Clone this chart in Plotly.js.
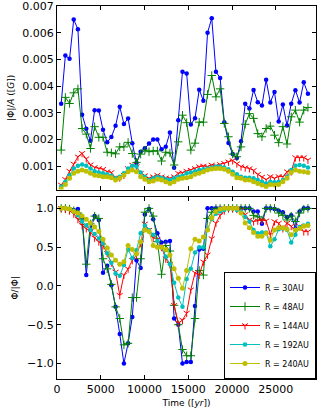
<!DOCTYPE html>
<html>
<head>
<meta charset="utf-8">
<script src="https://cdn.plot.ly/plotly-3.0.1.min.js"></script>
<style>html,body{margin:0;padding:0;background:#fff;}#chart{width:318px;height:416px;}</style>
</head>
<body>
<div id="chart"></div>
<script>
// Time of each snapshot (yr)
const times = [478,956,1434,1912,2390,2868,3346,3824,4302,4780,5258,5736,6214,6692,7170,7648,8126,8604,9082,9560,
  10038,10516,10994,11472,11950,12428,12906,13384,13862,14340,14818,15296,15774,16252,16730,17208,17686,18164,18642,19120,
  19598,20076,20554,21032,21510,21988,22466,22944,23422,23900,24378,24856,25334,25812,26290,26768,27246,27724,28202,28680];

const seriesNames = ["R = 30AU", "R = 48AU", "R = 144AU", "R = 192AU", "R = 240AU"];

// Top panel: |Phi| / A  ([G])
const amp30 = [0.00334,0.00515,0.00503,0.0065,0.00614,0.00293,0.0024,0.00195,0.0031,0.00309,
  0.00236,0.00189,0.00209,0.00251,0.00323,0.00258,0.00279,0.00186,0.00112,0.00154,
  0.00167,0.00185,0.002,0.002,0.00163,0.00173,0.00226,0.00094,0.00272,0.00454,
  0.00448,0.00256,0.0028,0.00387,0.00345,0.00601,0.00655,0.00454,0.00431,0.00265,
  0.00187,0.00145,0.0013,0.00193,0.00334,0.00316,0.00386,0.0034,0.00327,0.00424,
  0.00339,0.00378,0.00267,0.00331,0.00252,0.00334,0.00385,0.00339,0.00415,0.00372];
const amp48 = [0.0016,0.00358,0.00335,0.00375,0.0039,0.00241,0.0022,0.00166,0.00248,0.00208,
  0.00208,0.00152,0.0015,0.00146,0.00172,0.00172,0.00189,0.00147,0.00114,0.00145,
  0.0016,0.00154,0.00157,0.00157,0.00119,0.00152,0.00149,0.00104,0.00191,0.00291,
  0.00263,0.0016,0.00186,0.00265,0.00265,0.00369,0.0044,0.0036,0.0039,0.0026,
  0.0021,0.00145,0.00135,0.00172,0.00257,0.00297,0.00279,0.00222,0.0021,0.00241,
  0.0025,0.00216,0.00188,0.00248,0.00183,0.00285,0.0031,0.00265,0.0031,0.0032];
const amp144 = [0.00029,0.0005,0.00081,0.00108,0.00135,0.00148,0.00128,0.00105,0.00095,0.00091,
  0.00088,0.00079,0.00076,0.00056,0.00056,0.00066,0.00091,0.00104,0.00098,0.00073,
  0.00064,0.00054,0.0006,0.00066,0.0006,0.00056,0.00054,0.0006,0.00073,0.00075,
  0.00081,0.00085,0.00091,0.00098,0.001,0.00098,0.00104,0.00101,0.00106,0.0011,
  0.00116,0.00121,0.00109,0.00098,0.00094,0.00091,0.00084,0.00069,0.00059,0.00049,
  0.00061,0.00054,0.00061,0.0006,0.00079,0.00079,0.00132,0.00132,0.00132,0.00123];
const amp192 = [0.00023,0.00041,0.00066,0.00091,0.00101,0.00106,0.00101,0.00091,0.00081,0.00076,
  0.00073,0.00069,0.00064,0.00054,0.0006,0.00073,0.00091,0.00101,0.00098,0.00076,
  0.0006,0.00048,0.00054,0.0006,0.00056,0.00051,0.00048,0.00054,0.0006,0.00064,
  0.00073,0.00076,0.00081,0.00085,0.00088,0.00091,0.00095,0.00098,0.00098,0.00095,
  0.00088,0.00079,0.00069,0.0006,0.00056,0.00056,0.00054,0.00048,0.00041,0.00035,
  0.00041,0.00039,0.00041,0.00048,0.0006,0.00085,0.00101,0.00104,0.00101,0.00095];
const amp240 = [0.00015,0.00031,0.00054,0.00073,0.00081,0.00085,0.00081,0.00073,0.00066,0.00064,
  0.0006,0.0006,0.00056,0.00048,0.00054,0.00066,0.00079,0.00085,0.00079,0.0006,
  0.00051,0.00041,0.00044,0.00051,0.00048,0.00041,0.00035,0.00041,0.00051,0.00054,
  0.00056,0.0006,0.00069,0.00073,0.00079,0.00085,0.00089,0.00091,0.00091,0.00088,
  0.00081,0.00069,0.00056,0.00054,0.00048,0.00048,0.00041,0.00035,0.00029,0.00023,
  0.00031,0.00029,0.00031,0.00041,0.00054,0.00076,0.00085,0.00081,0.00079,0.00076];

// Bottom panel: Phi / |Phi|
const sgn30 = [1.0,1.0,0.99,0.98,0.99,0.88,0.14,0.72,0.9,0.85,
  0.17,0.26,0.01,-0.27,-0.62,-1.0,-0.74,-0.4,0.33,0.23,
  0.92,0.99,0.86,0.68,0.56,0.57,0.58,-0.42,-0.5,-1.0,
  -0.98,-0.98,-0.26,0.47,0.48,1.0,1.0,1.0,1.0,1.0,
  1.0,1.0,1.0,1.0,1.0,1.0,0.96,0.96,0.8,1.0,
  1.0,0.99,0.97,0.95,0.89,0.91,0.74,0.96,1.0,1.0];
const sgn48 = [1.0,1.0,0.99,0.97,0.94,0.86,0.28,0.8,0.9,0.87,
  0.35,0.22,0.02,-0.27,-0.42,-0.76,-0.74,-0.15,-0.15,0.35,
  0.95,1.0,0.9,0.57,0.15,0.52,0.45,-0.25,-0.5,-0.82,
  -0.9,-0.9,-0.42,0.2,0.14,0.87,0.95,1.0,1.0,1.0,
  1.0,1.0,1.0,1.0,1.0,1.0,0.91,0.89,0.85,1.0,
  1.0,1.0,0.94,0.91,0.85,0.9,0.83,0.94,0.99,1.0];
const sgn144 = [1.0,0.99,0.97,0.93,0.86,0.78,0.74,0.7,0.62,0.57,
  0.52,0.42,0.3,0.18,-0.12,0.14,0.22,0.33,0.4,0.55,
  0.8,0.72,0.62,0.6,0.5,0.35,0.28,-0.25,-0.48,-0.44,
  -0.35,-0.05,0.17,0.14,0.31,0.4,0.61,0.81,0.91,0.97,
  1.0,1.0,0.99,0.98,0.92,0.85,0.83,0.84,0.85,0.84,
  0.66,0.83,0.81,0.74,0.81,0.77,0.71,0.77,0.7,0.7];
const sgn192 = [1.0,1.0,0.99,0.97,0.91,0.83,0.78,0.72,0.67,0.61,
  0.55,0.42,0.3,0.16,0.13,0.27,0.47,0.36,0.46,0.68,
  0.78,0.72,0.66,0.58,0.5,0.38,0.28,0.04,-0.15,-0.27,
  0.09,0.22,0.43,0.5,0.5,0.73,0.86,0.93,0.96,0.98,
  1.0,1.0,0.98,0.96,0.89,0.83,0.72,0.68,0.69,0.69,
  0.51,0.6,0.73,0.74,0.72,0.56,0.66,0.76,0.78,0.8];
const sgn240 = [1.0,1.0,0.99,0.96,0.94,0.9,0.86,0.81,0.76,0.7,
  0.6,0.49,0.4,0.33,0.28,0.31,0.52,0.47,0.41,0.57,
  0.72,0.7,0.52,0.5,0.5,0.47,0.4,0.22,0.1,-0.03,
  0.2,0.48,0.6,0.58,0.63,0.72,0.88,0.96,0.99,1.0,
  1.0,1.0,1.0,0.94,0.81,0.75,0.69,0.64,0.64,0.68,
  0.59,0.72,0.75,0.75,0.73,0.66,0.72,0.74,0.77,0.78];

const colors = ["#0000ff", "#008000", "#ff0000", "#00bfbf", "#bfbf00"];
const styles = [
  {symbol: "circle", size: 4.5, line: {width: 0}},
  {symbol: "cross-thin-open", size: 6, line: {width: 1}},
  {symbol: "y-down-open", size: 5, line: {width: 1}},
  {symbol: "circle", size: 4.5, line: {width: 0}},
  {symbol: "circle", size: 5, line: {width: 0}}
];
const topData = [amp30, amp48, amp144, amp192, amp240];
const botData = [sgn30, sgn48, sgn144, sgn192, sgn240];

function makeMarker(i) {
  return {
    color: colors[i], symbol: styles[i].symbol, size: styles[i].size,
    line: {color: colors[i], width: styles[i].line.width}
  };
}

const traces = [];
topData.forEach((ys, i) => {
  traces.push({
    x: times, y: ys, type: "scatter", mode: "lines+markers",
    xaxis: "x", yaxis: "y", name: seriesNames[i], showlegend: false,
    line: {color: colors[i], width: 1}, marker: makeMarker(i)
  });
});
botData.forEach((ys, i) => {
  traces.push({
    x: times, y: ys, type: "scatter", mode: "lines+markers",
    xaxis: "x2", yaxis: "y2", name: seriesNames[i], showlegend: true,
    line: {color: colors[i], width: 1}, marker: makeMarker(i)
  });
});

const font = {family: "DejaVu Sans", size: 11, color: "#000"};
const axisCommon = {
  showline: true, linecolor: "#000", linewidth: 1, mirror: "allticks",
  ticks: "inside", ticklen: 4, tickwidth: 1, tickcolor: "#000",
  showgrid: false, zeroline: false, tickfont: font
};

const layout = {
  width: 318, height: 416,
  margin: {l: 57, r: 2, t: 6, b: 37},
  paper_bgcolor: "#fff", plot_bgcolor: "#fff",
  font: font,
  xaxis: Object.assign({}, axisCommon, {
    domain: [0, 1], anchor: "y", range: [0, 29600], tickvals: [0, 5000, 10000, 15000, 20000, 25000],
    showticklabels: false
  }),
  yaxis: Object.assign({}, axisCommon, {
    domain: [0.508, 1], anchor: "x", range: [0.00012, 0.00701],
    tickvals: [0.001, 0.002, 0.003, 0.004, 0.005, 0.006, 0.007], tickformat: ".3f",
    title: {text: "|Φ|/<i>A</i> ([<i>G</i>])", font: {family: "DejaVu Sans", size: 9, color: "#000"}, standoff: 6}
  }),
  xaxis2: Object.assign({}, axisCommon, {
    domain: [0, 1], anchor: "y2", range: [0, 29600], tickvals: [0, 5000, 10000, 15000, 20000, 25000],
    tickformat: "d",
    title: {text: "Time ([<i>yr</i>])", font: {family: "DejaVu Sans", size: 9, color: "#000"}, standoff: 4}
  }),
  yaxis2: Object.assign({}, axisCommon, {
    domain: [0, 0.4887], anchor: "x2", range: [-1.2, 1.15],
    tickvals: [-1, -0.5, 0, 0.5, 1], tickformat: ".1f",
    title: {text: "Φ/|Φ|", font: {family: "DejaVu Sans", size: 9, color: "#000"}, standoff: 6}
  }),
  legend: {
    x: 1, y: 0, xanchor: "right", yanchor: "bottom", xref: "paper", yref: "paper",
    bgcolor: "#fff", bordercolor: "#000", borderwidth: 1,
    font: {family: "DejaVu Sans", size: 8, color: "#000"},
    tracegroupgap: 0, itemwidth: 30
  },
  showlegend: true
};

Plotly.newPlot("chart", traces, layout, {displayModeBar: false, staticPlot: true});
</script>
</body>
</html>
